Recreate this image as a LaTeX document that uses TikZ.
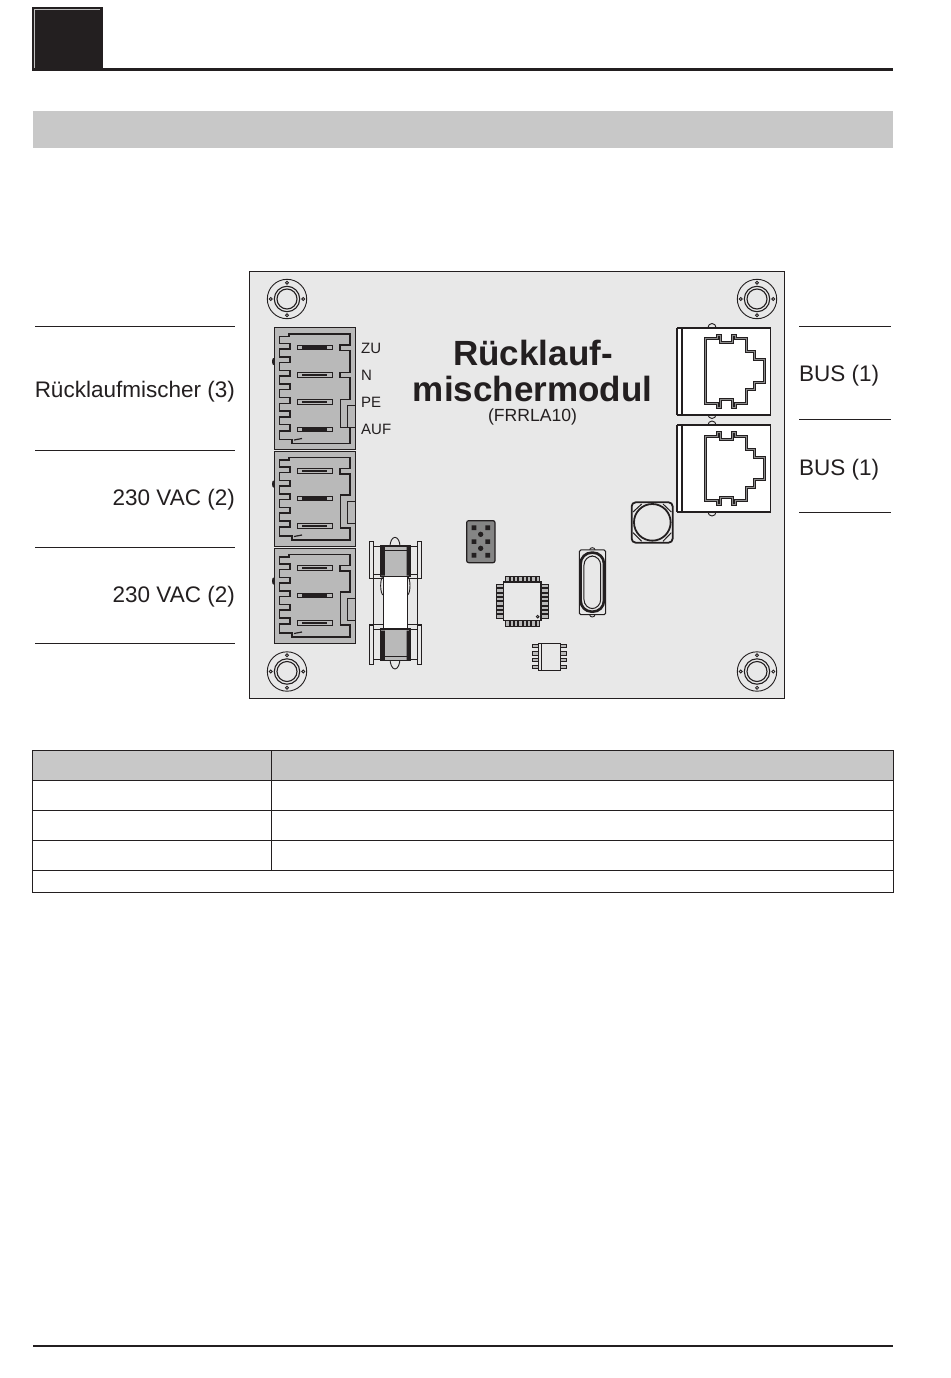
\documentclass[tikz,border=0pt]{standalone}
\usepackage{fontspec}
\setmainfont{Liberation Sans}
\definecolor{boardbg}{HTML}{E8E8E8}
\definecolor{bargrey}{HTML}{C8C8C8}
\definecolor{conngrey}{HTML}{B9B9B9}
\definecolor{inkblack}{HTML}{231F20}
\definecolor{hdrgrey}{HTML}{858585}
\tikzset{
  ink/.style={draw=inkblack,line width=#1},
  ink/.default=1,
  lead/.style={draw=inkblack,line width=0.9},
  lbl/.style={inner sep=0,font=\fontsize{22.5}{26}\selectfont,text=inkblack},
  small/.style={inner sep=0,anchor=west,font=\fontsize{15}{18}\selectfont,text=inkblack},
  title/.style={inner sep=0,font=\fontsize{35}{38}\bfseries\selectfont,text=inkblack},
  tab/.style={draw=inkblack,line width=0.95},
}
% mounting hole
\newcommand{\mounthole}[2]{%
  \begin{scope}[shift={(#1,#2)}]
    \draw[ink=0.9] (0,0) circle (19.7);
    \draw[ink=1.1] (0,0) circle (12.7);
    \draw[ink=1.1] (0,0) circle (10);
    \foreach \a in {0,90,180,270} \draw[ink=0.8,fill=boardbg] (\a:16.3) circle (1.5);
  \end{scope}}
% terminal contact
\newcommand{\contact}[1]{%
  \draw[ink=0.9,fill=conngrey] (23,#1-2.3) rectangle (58,#1+2.3);
  \fill[inkblack] (28,#1-1.2) rectangle (53,#1+1.2);}
% 3-pole connector, local origin = box top left
\newcommand{\connthree}[2]{%
  \begin{scope}[shift={(#1,#2)},y=-1pt]
    \fill[inkblack] (-0.5,33) ellipse (1.5 and 3.5);
    \draw[ink=1,fill=conngrey] (0,0) rectangle (81,95);
    \draw[ink=1.2] (15,6.5) -- (76,6.5) -- (76,17.5) -- (66,17.5) -- (66,23) -- (76,23) -- (76,44) -- (66.5,44) -- (66.5,77) -- (76,77) -- (76,89)
      -- (18,89) -- (18,85) -- (5.5,85) -- (5.5,76) -- (16,76) -- (16,70) -- (5.5,70) -- (5.5,62) -- (16,62) -- (16,56.5) -- (5.5,56.5) -- (5.5,48.5) -- (16,48.5)
      -- (16,43) -- (5.5,43) -- (5.5,35) -- (16,35) -- (16,29.5) -- (5.5,29.5) -- (5.5,21.5) -- (16,21.5) -- (16,16) -- (5.5,16) -- (5.5,9) -- (15,9) -- cycle;
    \draw[ink=0.9] (73,50.5) rectangle (81,72);
    \contact{20}\contact{47.3}\contact{75}
    \draw[ink=1.2] (20,85.5) -- (28,84);
  \end{scope}}
% 4-pole connector
\newcommand{\connfour}[2]{%
  \begin{scope}[shift={(#1,#2)},y=-1pt]
    \fill[inkblack] (-0.5,34) ellipse (1.5 and 3.5);
    \draw[ink=1,fill=conngrey] (0,0) rectangle (81,122);
    \draw[ink=1.2] (15,6.5) -- (76,6.5) -- (76,17.5) -- (66,17.5) -- (66,23) -- (76,23) -- (76,45) -- (66,45) -- (66,50) -- (76,50) -- (76,72)
      -- (66.5,72) -- (66.5,100) -- (76,100) -- (76,116) -- (18,116) -- (18,112) -- (5.5,112) -- (5.5,103.5) -- (16,103.5)
      -- (16,97) -- (5.5,97) -- (5.5,89.5) -- (16,89.5) -- (16,83.5) -- (5.5,83.5) -- (5.5,76) -- (16,76) -- (16,70) -- (5.5,70) -- (5.5,62) -- (16,62) -- (16,56.5) -- (5.5,56.5) -- (5.5,48.5) -- (16,48.5)
      -- (16,43) -- (5.5,43) -- (5.5,35) -- (16,35) -- (16,29.5) -- (5.5,29.5) -- (5.5,21.5) -- (16,21.5) -- (16,16) -- (5.5,16) -- (5.5,9) -- (15,9) -- cycle;
    \draw[ink=0.9] (73,77.5) rectangle (81,99.5);
    \contact{20}\contact{47.3}\contact{74.5}\contact{102}
    \draw[ink=1.2] (20,112.5) -- (28,111);
  \end{scope}}
% RJ45 jack
\newcommand{\jackpath}{(28,11) -- (40,11) -- (40,7.5) -- (43,7.5) -- (43,14.5) -- (55,14.5) -- (55,7.5) -- (58,7.5) -- (58,11) -- (69,11) -- (69,24) -- (77,24) -- (77,32) -- (87,32)
      -- (87,54.5) -- (77,54.5) -- (77,62) -- (69,62) -- (69,75.5) -- (58,75.5) -- (58,79.5) -- (55,79.5) -- (55,72) -- (43,72) -- (43,79.5) -- (40,79.5) -- (40,75.5) -- (28,75.5) -- cycle}
\newcommand{\jack}[2]{%
  \begin{scope}[shift={(#1,#2)},y=-1pt]
    \draw[ink=0.9,fill=boardbg] (31,0) arc (180:360:4);
    \draw[ink=0.9,fill=boardbg] (31,87) arc (180:0:4);
    \draw[ink=0.9,fill=white] (0,0) rectangle (93.5,87);
    \draw[inkblack,line width=2] (0,0) -- (93.5,0) (0,87) -- (93.5,87);
    \draw[inkblack,line width=1.4] (93.5,0) -- (93.5,87) (0,0) -- (0,87);
    \draw[ink=1.6] (5,0) -- (5,87);
    \path[draw=inkblack,line width=3,line join=miter,fill=white] \jackpath;
    \path[draw=white!55!black,line width=1] \jackpath;
  \end{scope}}
\begin{document}
\begin{tikzpicture}[x=1pt,y=1pt]
\useasboundingbox (0,0) rectangle (950,-1378);
\fill[white] (0,0) rectangle (950,-1378);
\begin{scope}[y=-1pt]
% header
\fill[inkblack] (32,7) rectangle (103,71);
\draw[white!75!black,line width=0.8] (34.5,68) -- (34.5,9.5) -- (100,9.5);
\draw[inkblack,line width=3] (103,69.5) -- (893,69.5);
\fill[bargrey] (33,111) rectangle (893,148);
\draw[inkblack,line width=2] (33,1346) -- (893,1346);
% board
\draw[ink=0.9,fill=boardbg] (249,271) rectangle (784,698.5);
\mounthole{287}{299}\mounthole{757}{299}\mounthole{287}{671.5}\mounthole{757}{671.5}
\connfour{274}{327.5}
\connthree{274}{451}
\connthree{274}{548}
\jack{677}{327.5}
\jack{677}{425}
% fuse
\begin{scope}[shift={(250,445)},x=0.3333pt,y=-0.3333pt]
  \draw[ink=0.9,fill=boardbg] (420,305) arc (180:360:15 and 28);
  \draw[ink=0.9,fill=boardbg] (420,640) arc (180:0:15 and 32);
  \draw[ink=1] (370,402) -- (370,540) (502,402) -- (502,540) (358,402) -- (400,402) (472,402) -- (515,402) (358,540) -- (400,540) (472,540) -- (515,540);
  \draw[ink=0.9] (400,450) arc (90:270:8 and 28) (472,450) arc (90:-90:8 and 28);
  \draw[ink=1,fill=boardbg] (358,290) rectangle (370,402);
  \draw[ink=1,fill=boardbg] (502,290) rectangle (515,402);
  \draw[ink=1,fill=boardbg] (358,542) rectangle (370,660);
  \draw[ink=1,fill=boardbg] (502,542) rectangle (515,660);
  \draw[ink=1] (370,305) -- (392,305) (370,390) -- (392,390) (370,555) -- (392,555) (370,645) -- (392,645)
    (480,305) -- (502,305) (480,390) -- (502,390) (480,555) -- (502,555) (480,645) -- (502,645);
  \draw[ink=1,fill=white] (400,395) rectangle (472,552);
  \draw[ink=1.3,fill=conngrey] (392,303) rectangle (480,395);
  \draw[ink=1.3,fill=conngrey] (392,552) rectangle (480,647);
  \fill[inkblack] (392,303) rectangle (405,392) (470,303) rectangle (480,392) (392,557) rectangle (405,645) (470,557) rectangle (480,645);
  \draw[ink=1.1] (405,316) -- (470,316) (405,635) -- (470,635);
\end{scope}
% header pins, chips, crystal, inductor
\begin{scope}[shift={(450,490)},x=0.3333pt,y=-0.3333pt]
  \draw[ink=1.2,fill=hdrgrey,rounded corners=2pt] (50,92) rectangle (135,218);
  \fill[inkblack] \foreach \px in {72,113} { \foreach \py in {113,155,196} {(\px-7,\py-7) rectangle (\px+7,\py+7)}};
  \fill[inkblack] (92,133) circle (8) (92,175) circle (8);
  % QFP
  \foreach \k in {0,...,7} {
    \draw[ink=0.9,fill=conngrey] (172+\k*13-5,258) rectangle (172+\k*13+5,276);
    \draw[ink=0.9,fill=conngrey] (172+\k*13-5,392) rectangle (172+\k*13+5,410);
    \draw[ink=0.9,fill=conngrey] (140,288+\k*13-5) rectangle (160,288+\k*13+5);
    \draw[ink=0.9,fill=conngrey] (275,288+\k*13-5) rectangle (294,288+\k*13+5);
  }
  \draw[ink=1.5,fill=boardbg] (160,276) rectangle (273,391);
  \draw[ink=0.9] (263,380) circle (4);
  % crystal
  \draw[ink=0.9,fill=boardbg] (419,180) arc (180:360:8 and 7);
  \draw[ink=0.9,fill=boardbg] (419,374) arc (180:0:8 and 7);
  \draw[ink=1,fill=boardbg,rounded corners=1.5pt] (388,180) rectangle (467,374);
  \draw[ink=2.6,fill=boardbg,rounded corners=11pt] (392,188) rectangle (462,365);
  \draw[ink=1,rounded corners=9pt] (402,198) rectangle (452,356);
  % SOIC
  \foreach \py in {467,490,510,531} {
    \draw[ink=0.9,fill=conngrey] (247,\py-5) rectangle (265,\py+5);
    \draw[ink=0.9,fill=conngrey] (332,\py-5) rectangle (350,\py+5);
  }
  \draw[ink=1.1,fill=boardbg] (265,460) rectangle (332,542);
  \draw[ink=0.9] (275,460) -- (275,542);
  % inductor
  \draw[ink=1.8,fill=boardbg,rounded corners=4pt] (545,37) rectangle (668,158);
  \draw[ink=1.8] (607,97) circle (55);
  \draw[ink=1] (549,66) -- (575,42) (639,42) -- (664,66) (549,128) -- (575,154) (639,154) -- (664,128);
\end{scope}
% leader lines
\draw[lead] (35,326) -- (235,326) (35,450) -- (235,450) (35,547) -- (235,547) (35,643) -- (235,643);
\draw[lead] (799,326) -- (891,326) (799,419) -- (891,419) (799,512) -- (891,512);
% labels
\node[lbl,anchor=east] (lmisch) at (235,392) {Rücklaufmischer (3)};
\node[lbl,anchor=east] (vaca) at (235,500) {230 VAC (2)};
\node[lbl,anchor=east] (vacb) at (235,596.5) {230 VAC (2)};
\node[lbl,anchor=west] (busa) at (799,375.5) {BUS (1)};
\node[lbl,anchor=west] (busb) at (799,470) {BUS (1)};
\node[small] (zu) at (361,348.5) {ZU};
\node[small] (n) at (361,375.5) {N};
\node[small] (pe) at (361,402.5) {PE};
\node[small] (auf) at (361,429.5) {AUF};
\node[title] (tone) at (533,352.5) {Rücklauf-};
\node[title] (ttwo) at (532.5,389) {mischermodul};
\node[inner sep=0,font=\fontsize{17.6}{20}\selectfont,text=inkblack] (tmod) at (532.5,417) {(FRRLA10)};
% table
\fill[bargrey] (32.5,750) rectangle (893,780);
\draw[tab] (32.5,750) rectangle (893,892);
\draw[tab] (32.5,780) -- (893,780) (32.5,810.5) -- (893,810.5) (32.5,840.5) -- (893,840.5) (32.5,870.5) -- (893,870.5);
\draw[tab] (271,750) -- (271,870.5);
\end{scope}
\end{tikzpicture}
\end{document}
